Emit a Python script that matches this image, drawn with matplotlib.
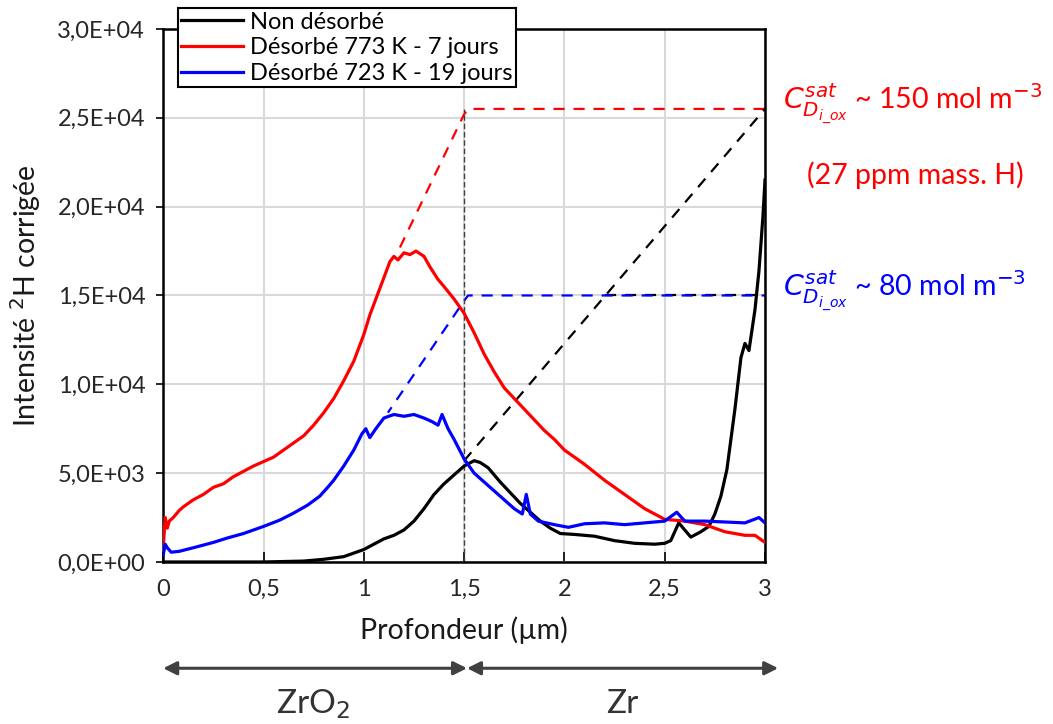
import matplotlib
matplotlib.use("Agg")
import matplotlib.pyplot as plt
from matplotlib.ticker import FuncFormatter

plt.rcParams['font.family'] = ['Lato', 'DejaVu Sans']
plt.rcParams['mathtext.fontset'] = 'dejavusans'

# Profils de deuterium (intensite corrigee) en fonction de la profondeur (um)
x_red = [0, 0.01, 0.02, 0.03, 0.05, 0.08, 0.1, 0.15, 0.2, 0.25, 0.3, 0.35, 0.4, 0.45, 0.5,
         0.55, 0.6, 0.65, 0.7, 0.75, 0.8, 0.85, 0.9, 0.95, 1.0, 1.03, 1.07, 1.1, 1.13, 1.15,
         1.17, 1.2, 1.23, 1.26, 1.3, 1.33, 1.37, 1.4, 1.45, 1.5, 1.55, 1.6, 1.65, 1.7, 1.75,
         1.8, 1.85, 1.9, 1.95, 2.0, 2.1, 2.2, 2.3, 2.4, 2.5, 2.6, 2.7, 2.8, 2.9, 2.95, 3.0]
y_red = [800, 2500, 1900, 2300, 2500, 2900, 3100, 3500, 3800, 4200, 4400, 4800, 5100, 5400, 5650,
         5900, 6300, 6700, 7100, 7700, 8400, 9200, 10200, 11300, 12800, 13900, 15100, 16000, 16900, 17200,
         17000, 17400, 17300, 17500, 17200, 16600, 15900, 15500, 14800, 14000, 12900, 11700, 10700, 9800, 9200,
         8600, 8000, 7400, 6900, 6300, 5500, 4600, 3800, 3000, 2400, 2300, 2100, 1700, 1500, 1500, 1100]

x_blue = [0, 0.01, 0.02, 0.04, 0.08, 0.15, 0.2, 0.25, 0.32, 0.4, 0.5, 0.58, 0.65, 0.72, 0.78,
          0.82, 0.85, 0.9, 0.95, 0.99, 1.01, 1.03, 1.06, 1.1, 1.15, 1.2, 1.25, 1.3, 1.34, 1.37,
          1.39, 1.42, 1.45, 1.5, 1.55, 1.6, 1.65, 1.7, 1.75, 1.79, 1.81, 1.83, 1.87, 1.95, 2.02,
          2.1, 2.2, 2.3, 2.4, 2.5, 2.56, 2.6, 2.7, 2.8, 2.9, 2.97, 3.0]
y_blue = [400, 1000, 800, 550, 600, 800, 950, 1100, 1350, 1600, 2000, 2350, 2750, 3200, 3700,
          4200, 4600, 5400, 6300, 7200, 7500, 7000, 7500, 8100, 8300, 8200, 8300, 8100, 7900, 7700,
          8300, 7500, 6900, 5800, 5000, 4500, 4000, 3500, 3000, 2700, 3800, 2700, 2300, 2100, 1950,
          2150, 2200, 2100, 2200, 2300, 2800, 2300, 2300, 2250, 2200, 2500, 2200]

x_black = [0, 0.5, 0.7, 0.8, 0.9, 0.95, 1.0, 1.05, 1.1, 1.15, 1.2, 1.25, 1.3, 1.35, 1.4,
           1.45, 1.5, 1.55, 1.58, 1.62, 1.68, 1.73, 1.78, 1.83, 1.88, 1.93, 1.98, 2.05, 2.15, 2.25,
           2.35, 2.45, 2.5, 2.53, 2.57, 2.6, 2.63, 2.68, 2.72, 2.75, 2.78, 2.81, 2.85, 2.88, 2.9,
           2.92, 2.95, 2.97, 2.99, 3.0]
y_black = [0, 0, 50, 150, 300, 500, 700, 1000, 1300, 1500, 1800, 2300, 3000, 3800, 4400,
           4900, 5400, 5700, 5600, 5300, 4500, 3900, 3300, 2800, 2300, 1900, 1600, 1550, 1450, 1200,
           1050, 1000, 1050, 1200, 2200, 1800, 1400, 1700, 2000, 2700, 3700, 5200, 8600, 11500, 12300,
           11900, 14200, 16400, 19500, 21500]

# extrapolations (tirets)
x_red_sat = [1.18, 1.5, 1.52, 3.0]
y_red_sat = [17700, 25200, 25500, 25500]
x_blue_sat = [1.12, 1.5, 1.52, 3.0]
y_blue_sat = [8400, 14700, 15000, 15000]
x_black_sat = [1.5, 3.0]
y_black_sat = [5700, 25500]
x_black_flat = [2.2, 3.0]
y_black_flat = [15000, 15000]
x_interface = [1.5, 1.5]
y_interface = [0, 25500]

fig = plt.figure(figsize=(10.53, 7.24), dpi=100)
ax = fig.add_axes([0.155, 0.2238, 0.5715, 0.7362])

ax.plot(x_black, y_black, color="black", lw=2.3, label="Non désorbé", zorder=3)
ax.plot(x_red, y_red, color="#ff0000", lw=2.3, label="Désorbé 773 K - 7 jours", zorder=3)
ax.plot(x_blue, y_blue, color="#0000ff", lw=2.3, label="Désorbé 723 K - 19 jours", zorder=3)

ax.plot(x_red_sat, y_red_sat, color="#ff0000", lw=1.6, ls=(0, (5, 4)), zorder=2)
ax.plot(x_black_flat, y_black_flat, color="black", lw=1.6, ls=(0, (5, 4)), zorder=2)
ax.plot(x_blue_sat, y_blue_sat, color="#0000ff", lw=1.6, ls=(2, (5, 4)), zorder=2)
ax.plot(x_black_sat, y_black_sat, color="black", lw=1.6, ls=(0, (5, 4)), zorder=2)
ax.plot(x_interface, y_interface, color="#404040", lw=1.0, ls=(0, (4, 2)), zorder=2)

ax.set_xlim(0, 3)
ax.set_ylim(0, 30000)
ax.set_xticks([0, 0.5, 1, 1.5, 2, 2.5, 3])
ax.set_yticks([0, 5000, 10000, 15000, 20000, 25000, 30000])
ax.xaxis.set_major_formatter(FuncFormatter(lambda v, p: f"{v:g}".replace(".", ",")))
ax.yaxis.set_major_formatter(FuncFormatter(lambda v, p: f"{v:.1E}".replace(".", ",")))
ax.tick_params(axis="x", direction="in", length=7, width=1.2, labelsize=17, pad=12)
ax.tick_params(axis="y", direction="out", length=5, width=1.2, labelsize=17, pad=8)
for lbl in ax.get_xticklabels() + ax.get_yticklabels():
    lbl.set_color("#262626")
ax.grid(True, color="#d9d9d9", lw=1.5)
ax.set_axisbelow(True)
for s in ax.spines.values():
    s.set_linewidth(1.8)
    s.set_color("black")

ax.set_xlabel("Profondeur (µm)", fontsize=20.5, labelpad=12, color="#1a1a1a")
ax.set_ylabel("Intensité $^{2}$H corrigée", fontsize=20.5, labelpad=10, color="#1a1a1a")

leg = fig.legend(loc="upper left", bbox_to_anchor=(0.169, 0.989), fontsize=17, frameon=True,
                 fancybox=False, edgecolor="black", handlelength=2.6, handletextpad=0.3,
                 borderpad=0.15, labelspacing=0.2, borderaxespad=0)
leg.get_frame().set_linewidth(1.5)
leg.get_frame().set_alpha(1)

# annotations de saturation
fig.text(0.744, 0.857, r"$C^{sat}_{D_{i\_ox}}$" + " ~ 150 mol m$^{-3}$", color="#ff0000",
         fontsize=20.5, va="center", ha="left")
fig.text(0.766, 0.758, "(27 ppm mass. H)", color="#ff0000", fontsize=20.5, va="center", ha="left")
fig.text(0.744, 0.598, r"$C^{sat}_{D_{i\_ox}}$" + " ~ 80 mol m$^{-3}$", color="#0000ff",
         fontsize=20.5, va="center", ha="left")

# couches ZrO2 / Zr
arrow_y = 0.077
for x0, x1 in [(0.155, 0.4435), (0.4435, 0.739)]:
    fig.patches.append(matplotlib.patches.FancyArrowPatch(
        (x0, arrow_y), (x1, arrow_y), transform=fig.transFigure,
        arrowstyle="<|-|>", mutation_scale=20, color="#404040", lw=2.2, shrinkA=0, shrinkB=0))
fig.text(0.297, 0.027, "ZrO$_2$", fontsize=24, color="#333333", ha="center", va="center")
fig.text(0.591, 0.027, "Zr", fontsize=24, color="#333333", ha="center", va="center")

fig.savefig("out.png", dpi=100)
